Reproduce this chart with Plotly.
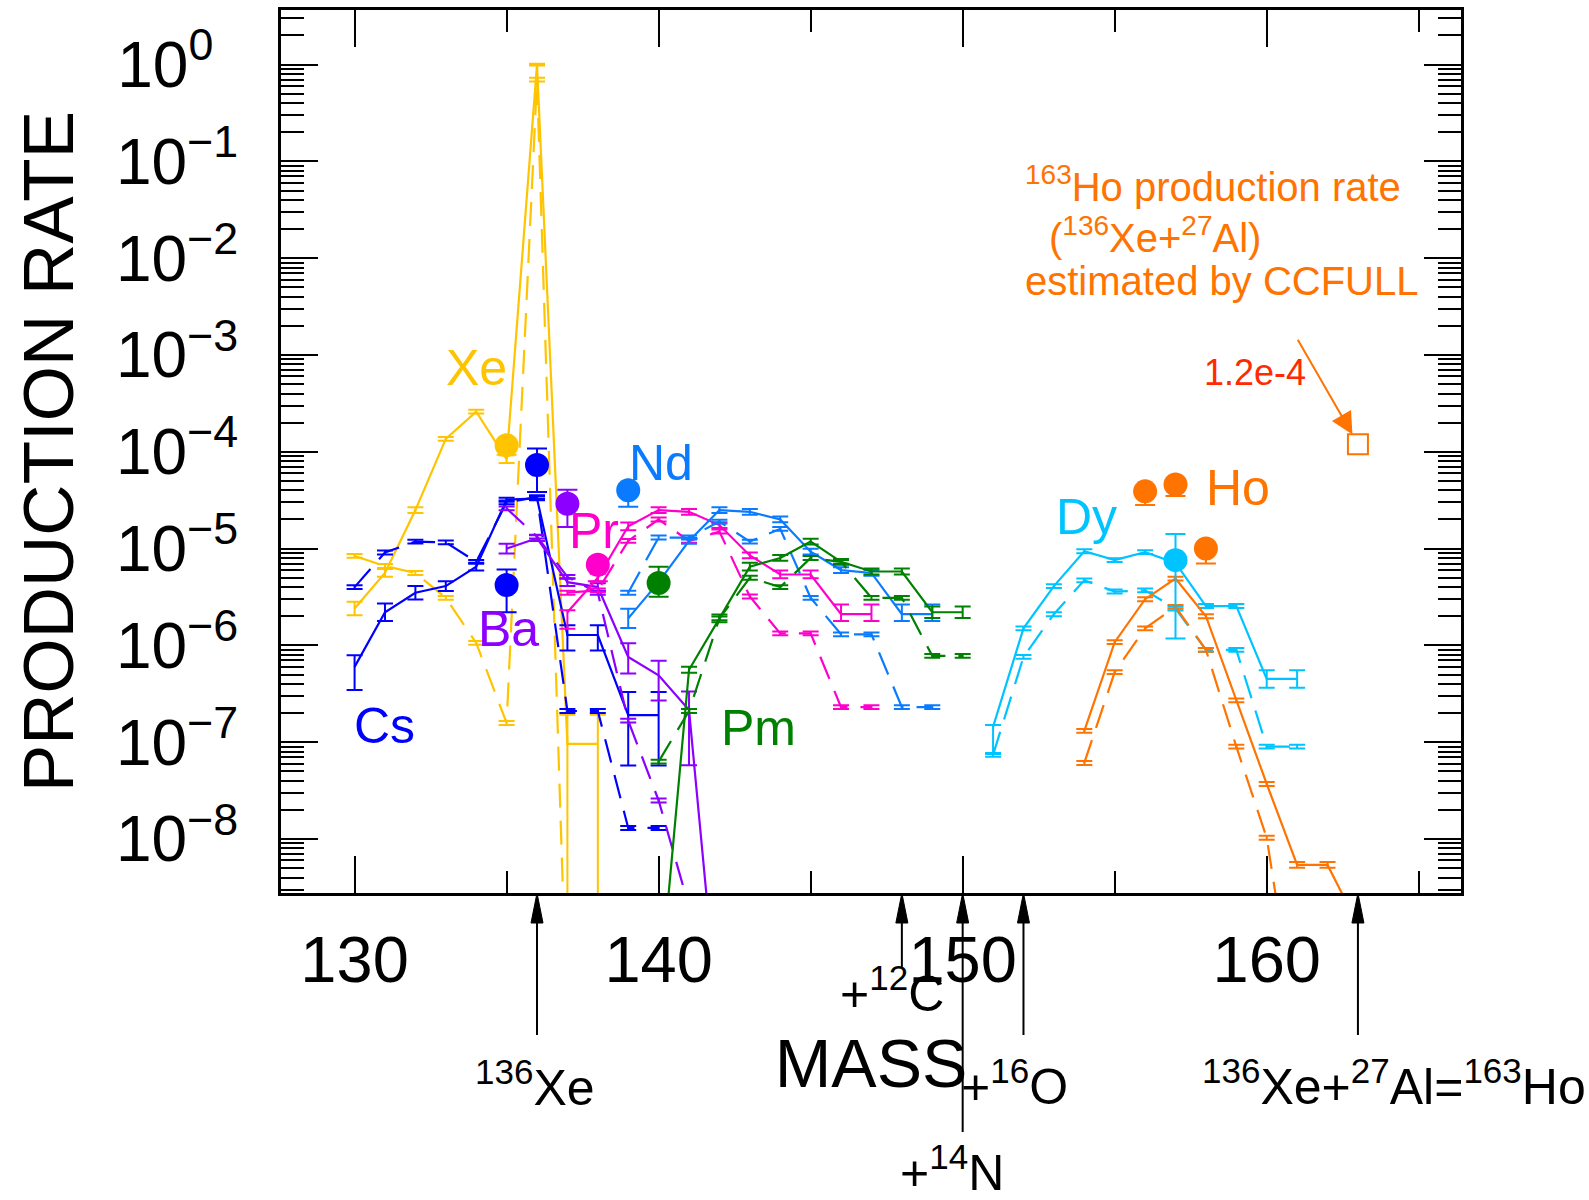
import numpy as np
import plotly.graph_objects as go

# ---------------- data ----------------
xe_mass = [130, 131, 132, 133, 134, 135, 136, 137, 138]
xe_solid = [2.4e-6, 5.6e-6, 2.5e-5, 1.36e-4, 2.6e-4, 8.4e-5, 1.0, 9.6e-8, 9.6e-8]
xe_solid_eu = [0.07, 0.04, 0.03, 0.02, 0.02, 0.04, 0.01, 0.30, 0.30]
xe_solid_ed = [0.07, 0.04, 0.03, 0.02, 0.02, 0.04, 0.01, 6.0, 6.0]
xe_dash_mass = [130, 131, 132, 133, 134, 135, 136, 137]
xe_dash = [8.4e-6, 6.6e-6, 5.6e-6, 3.1e-6, 1.06e-6, 1.58e-7, 0.7, 1e-10]

cs_mass = [130, 131, 132, 133, 134, 135, 136, 137, 138, 139, 140]
cs_solid = [6.0e-7, 2.2e-6, 3.5e-6, 4.1e-6, 6.5e-6, 3.2e-5, 3.3e-5, 1.28e-6, 1.28e-6, 1.9e-7, 1.9e-7]
cs_solid_eu = [0.12, 0.09, 0.07, 0.05, 0.04, 0.02, 0.02, 0.10, 0.10, 0.24, 0.24]
cs_solid_ed = [0.24, 0.09, 0.07, 0.05, 0.04, 0.02, 0.02, 0.16, 0.16, 0.52, 0.52]
cs_dash = [4.0e-6, 9.1e-6, 1.18e-5, 1.16e-5, 7.3e-6, 3.0e-5, 3.4e-5, 2.1e-7, 2.1e-7, 1.3e-8, 1.3e-8]

ba_mass = [135, 136, 137, 138, 139, 140, 141, 142]
ba_solid = [1.0e-5, 1.28e-5, 4.5e-6, 4.0e-6, 7.6e-7, 4.9e-7, 2.15e-7, 1e-10]
ba_solid_eu = [0.05, 0.03, 0.04, 0.04, 0.14, 0.15, 0.19, 0.0]
ba_solid_ed = [0.05, 0.03, 0.04, 0.04, 0.17, 0.26, 0.57, 0.0]
ba_dash_mass = [135, 136, 137, 138, 139, 140, 141]
ba_dash = [2.6e-5, 1.33e-5, 5.1e-6, 3.5e-6, 1.67e-7, 2.5e-8, 2e-9]

pr_mass = [137, 138, 139, 140, 141, 142, 143, 144, 145, 146, 147]
pr_solid = [2.2e-6, 5.0e-6, 1.7e-5, 2.5e-5, 2.4e-5, 1.75e-5, 8.5e-6, 5.4e-6, 5.4e-6, 2.1e-6, 2.1e-6]
pr_solid_eu = [0.02, 0.04, 0.04, 0.03, 0.03, 0.03, 0.03, 0.04, 0.04, 0.10, 0.10]
pr_solid_ed = [0.17, 0.04, 0.04, 0.03, 0.03, 0.03, 0.03, 0.04, 0.04, 0.07, 0.07]
pr_dash = [3.5e-6, 3.7e-6, 1.2e-5, 2.0e-5, 1.2e-5, 1.5e-5, 3.2e-6, 1.33e-6, 1.33e-6, 2.3e-7, 2.3e-7]

nd_mass = [139, 140, 141, 142, 143, 144, 145, 146, 147, 148, 149]
nd_solid = [1.9e-6, 4.5e-6, 1.2e-5, 2.5e-5, 2.4e-5, 2.0e-5, 9.3e-6, 6.0e-6, 5.6e-6, 2.1e-6, 2.1e-6]
nd_solid_eu = [0.10, 0.04, 0.03, 0.03, 0.03, 0.03, 0.03, 0.03, 0.03, 0.10, 0.10]
nd_solid_ed = [0.10, 0.04, 0.03, 0.03, 0.03, 0.03, 0.03, 0.03, 0.03, 0.07, 0.07]
nd_dash = [3.5e-6, 1.3e-5, 1.3e-5, 1.9e-5, 1.18e-5, 1.6e-5, 3.1e-6, 1.3e-6, 1.3e-6, 2.3e-7, 2.3e-7]

pm_mass = [140, 141, 142, 143, 144, 145, 146, 147, 148, 149, 150]
pm_solid = [2e-10, 5.6e-7, 1.9e-6, 6.5e-6, 8.0e-6, 1.18e-5, 7.3e-6, 5.8e-6, 5.8e-6, 2.2e-6, 2.2e-6]
pm_solid_eu = [0.0, 0.03, 0.04, 0.04, 0.03, 0.03, 0.03, 0.03, 0.03, 0.06, 0.06]
pm_solid_ed = [0.0, 0.03, 0.04, 0.04, 0.03, 0.03, 0.03, 0.03, 0.03, 0.06, 0.06]
pm_dash = [6.3e-8, 2.1e-7, 1.9e-6, 5.0e-6, 4.0e-6, 8.0e-6, 7.3e-6, 3.1e-6, 3.1e-6, 7.8e-7, 7.8e-7]

dy_mass = [151, 152, 153, 154, 155, 156, 157, 158, 159, 160, 161]
dy_solid = [1.44e-7, 1.5e-6, 4.1e-6, 9.4e-6, 7.6e-6, 9.2e-6, 7.1e-6, 2.55e-6, 2.55e-6, 4.5e-7, 4.5e-7]
dy_solid_eu = [0.02, 0.02, 0.02, 0.02, 0.02, 0.02, 0.02, 0.02, 0.02, 0.09, 0.09]
dy_solid_ed = [0.28, 0.02, 0.02, 0.02, 0.02, 0.02, 0.02, 0.02, 0.02, 0.09, 0.09]
dy_dash = [7.4e-8, 7.6e-7, 2.1e-6, 4.7e-6, 3.6e-6, 3.7e-6, 2.4e-6, 9.0e-7, 9.0e-7, 9.0e-8, 9.0e-8]

ho_mass = [154, 155, 156, 157, 158, 159, 160, 161, 162, 163]
ho_solid = [1.31e-7, 1.08e-6, 3.0e-6, 4.9e-6, 2.0e-6, 2.7e-7, 3.7e-8, 5.4e-9, 5.4e-9, 1.3e-9]
ho_solid_eu = [0.02, 0.02, 0.02, 0.02, 0.02, 0.02, 0.02, 0.03, 0.03, 0.0]
ho_solid_ed = [0.02, 0.02, 0.02, 0.02, 0.02, 0.02, 0.02, 0.03, 0.03, 0.0]
ho_dash_mass = [154, 155, 156, 157, 158, 159, 160, 161]
ho_dash = [6.1e-8, 5.3e-7, 1.5e-6, 2.5e-6, 9.0e-7, 9.0e-8, 1.03e-8, 1e-10]

# measured rates (filled circles)
meas_elem = ["Xe", "Cs", "Cs", "Ba", "Pr", "Nd", "Pm", "Dy", "Ho", "Ho", "Ho"]
meas_mass = [135, 135, 136, 137, 138, 139, 140, 157, 156, 157, 158]
meas_val = [1.17e-4, 4.2e-6, 7.3e-5, 2.9e-5, 6.8e-6, 4.0e-5, 4.4e-6, 7.6e-6, 3.9e-5, 4.6e-5, 1.0e-5]
meas_eu = [0.03, 0.16, 0.17, 0.145, 0.05, 0.05, 0.17, 0.27, 0.05, 0.05, 0.05]
meas_ed = [0.10, 0.28, 0.28, 0.24, 0.17, 0.17, 0.14, 0.81, 0.14, 0.12, 0.155]

# CCFULL estimate
ccfull_mass = [163]
ccfull_val = [1.2e-4]

# element labels
label_elem = ["Xe", "Cs", "Ba", "Pr", "Nd", "Pm", "Dy", "Ho"]
label_mass = [134.0, 131.0, 135.05, 137.87, 140.08, 143.27, 154.06, 159.06]
label_val = [7.3e-4, 1.48e-7, 1.48e-6, 1.52e-5, 7.66e-5, 1.4e-7, 2.12e-5, 4.2e-5]

# reference masses marked below the axis
arrow_mass = [136, 148, 150, 152, 163]
arrow_text = ["<sup>136</sup>Xe", "+<sup>12</sup>C", "+<sup>14</sup>N", "+<sup>16</sup>O",
              "<sup>136</sup>Xe+<sup>27</sup>Al=<sup>163</sup>Ho"]

# CCFULL note lines
note_lines = ["<sup>163</sup>Ho production rate", "(<sup>136</sup>Xe+<sup>27</sup>Al)",
              "estimated by CCFULL"]
note_mass = [152.0, 152.78, 152.0]
note_logy = [-1.237, -1.76, -2.236]

y_tick_exp = [0, -1, -2, -3, -4, -5, -6, -7, -8]
x_tick_vals = [130, 140, 150, 160]

colors = {"Xe": "#FFC400", "Cs": "#0000FF", "Ba": "#8B00FF", "Pr": "#FF00CC",
          "Nd": "#0A7BFF", "Pm": "#008000", "Dy": "#00C4FF", "Ho": "#FF7300"}

# ---------------- figure ----------------
FONT = "Liberation Sans, Arial, Helvetica, sans-serif"
fig = go.Figure()


def err_arrays(vals, eu, ed):
    up = [v * (10 ** u - 1) for v, u in zip(vals, eu)]
    dn = [v * (1 - 10 ** (-d)) for v, d in zip(vals, ed)]
    return up, dn


def add_series(mass, vals, eu, ed, color, dash):
    up, dn = err_arrays(vals, eu, ed)
    fig.add_trace(go.Scatter(
        x=mass, y=vals, mode="lines",
        line=dict(color=color, width=2.2, dash=dash),
        error_y=dict(type="data", symmetric=False, array=up, arrayminus=dn,
                     color=color, thickness=2, width=8),
        showlegend=False, hoverinfo="skip"))


DASH = "24px,13px"
series = [
    (xe_mass, xe_solid, xe_solid_eu, xe_solid_ed, xe_dash_mass, xe_dash, "Xe"),
    (cs_mass, cs_solid, cs_solid_eu, cs_solid_ed, cs_mass, cs_dash, "Cs"),
    (ba_mass, ba_solid, ba_solid_eu, ba_solid_ed, ba_dash_mass, ba_dash, "Ba"),
    (pr_mass, pr_solid, pr_solid_eu, pr_solid_ed, pr_mass, pr_dash, "Pr"),
    (nd_mass, nd_solid, nd_solid_eu, nd_solid_ed, nd_mass, nd_dash, "Nd"),
    (pm_mass, pm_solid, pm_solid_eu, pm_solid_ed, pm_mass, pm_dash, "Pm"),
    (dy_mass, dy_solid, dy_solid_eu, dy_solid_ed, dy_mass, dy_dash, "Dy"),
    (ho_mass, ho_solid, ho_solid_eu, ho_solid_ed, ho_dash_mass, ho_dash, "Ho"),
]
for m, s, eu, ed, md, d, el in series:
    c = colors[el]
    de = [0.02 if v > 1e-9 else 0.0 for v in d]
    add_series(md, d, de, de, c, DASH)
    add_series(m, s, eu, ed, c, "solid")

# measured points
up, dn = err_arrays(meas_val, meas_eu, meas_ed)
mcol = [colors[e] for e in meas_elem]
for i in range(len(meas_val)):
    fig.add_trace(go.Scatter(
        x=[meas_mass[i]], y=[meas_val[i]], mode="markers",
        marker=dict(color=mcol[i], size=24, line=dict(width=0)),
        error_y=dict(type="data", symmetric=False, array=[up[i]], arrayminus=[dn[i]],
                     color=mcol[i], thickness=2, width=10),
        showlegend=False, hoverinfo="skip"))

fig.add_trace(go.Scatter(
    x=ccfull_mass, y=ccfull_val, mode="markers",
    marker=dict(symbol="square-open", size=20, color=colors["Ho"], line=dict(width=2)),
    showlegend=False, hoverinfo="skip"))

annotations = []
for el, m, v in zip(label_elem, label_mass, label_val):
    annotations.append(dict(x=m, y=np.log10(v), xref="x", yref="y", text=el,
                            showarrow=False, font=dict(family=FONT, size=50, color=colors[el]),
                            xanchor="center", yanchor="middle"))

# CCFULL arrow and texts
annotations.append(dict(x=ccfull_mass[0], y=np.log10(ccfull_val[0]), xref="x", yref="y",
                        text="", showarrow=True, ax=-61, ay=-106, axref="pixel", ayref="pixel",
                        arrowhead=2, arrowsize=2.2, arrowwidth=2, arrowcolor=colors["Ho"],
                        standoff=11))
annotations.append(dict(x=159.62, y=-3.176, xref="x", yref="y", text="1.2e-4",
                        showarrow=False, font=dict(family=FONT, size=36, color="#FF2A00"),
                        xanchor="center", yanchor="middle"))
for t, m, ly in zip(note_lines, note_mass, note_logy):
    annotations.append(dict(x=m, y=ly, xref="x", yref="y", text=t,
                            showarrow=False, align="left", xanchor="left", yanchor="middle",
                            font=dict(family=FONT, size=40, color=colors["Ho"])))

# bottom reference arrows
tail_len = [142, 75, 239, 142, 142]
lab_dx = [-2, -10, -11, -9, 36]
lab_dy = [-191, -97, -276, -190, -190]
shapes = []
for m, t, L, dx, dy in zip(arrow_mass, arrow_text, tail_len, lab_dx, lab_dy):
    shapes.append(dict(type="line", xref="x", yref="paper", xsizemode="scaled",
                       ysizemode="pixel", yanchor=0, x0=m, x1=m, y0=-L, y1=-20,
                       line=dict(color="black", width=2), layer="above"))
    shapes.append(dict(type="path", xref="x", yref="paper", xsizemode="pixel", xanchor=m,
                       ysizemode="pixel", yanchor=0,
                       path="M 0 0 L -6 -30 L 6 -30 Z",
                       fillcolor="black", line=dict(color="black", width=1), layer="above"))
    annotations.append(dict(x=m, y=0, xref="x", yref="paper", text=t, showarrow=False,
                            xshift=dx, yshift=dy, xanchor="center", yanchor="middle",
                            font=dict(family=FONT, size=50, color="black")))

ytext = []
for e in y_tick_exp:
    if e == 0:
        ytext.append("10<sup>0\u00a0\u00a0</sup>")
    else:
        ytext.append("10<sup>\u2212" + str(-e) + "</sup>")

fig.update_layout(
    width=1589, height=1200,
    margin=dict(l=281, r=128, t=10, b=307, autoexpand=False),
    paper_bgcolor="white", plot_bgcolor="white",
    font=dict(family=FONT, color="black"),
    annotations=annotations, shapes=shapes,
    xaxis=dict(range=[127.58, 166.39], tickmode="array", tickvals=x_tick_vals,
               ticks="inside", ticklen=37, tickwidth=2, tickcolor="black",
               showline=True, linewidth=3, linecolor="black", mirror="allticks",
               showgrid=False, zeroline=False,
               tickfont=dict(family=FONT, size=65), ticklabelstandoff=8,
               minor=dict(dtick=5, tick0=0, ticks="inside", ticklen=22, tickwidth=2,
                          tickcolor="black", showgrid=False),
               title=dict(text="MASS", font=dict(family=FONT, size=68), standoff=45),
               automargin=False),
    yaxis=dict(type="log", range=[-8.558, 0.564], tickmode="array",
               tickvals=[10.0 ** e for e in y_tick_exp], ticktext=ytext,
               ticks="inside", ticklen=37, tickwidth=2, tickcolor="black",
               showline=True, linewidth=3, linecolor="black", mirror="allticks",
               showgrid=False, zeroline=False,
               tickfont=dict(family=FONT, size=64), ticklabelstandoff=27,
               minor=dict(dtick="D1", ticks="inside", ticklen=23, tickwidth=2,
                          tickcolor="black", showgrid=False),
               title=dict(text="PRODUCTION RATE", font=dict(family=FONT, size=71), standoff=20),
               automargin=False),
)

fig.write_html("out.html")
